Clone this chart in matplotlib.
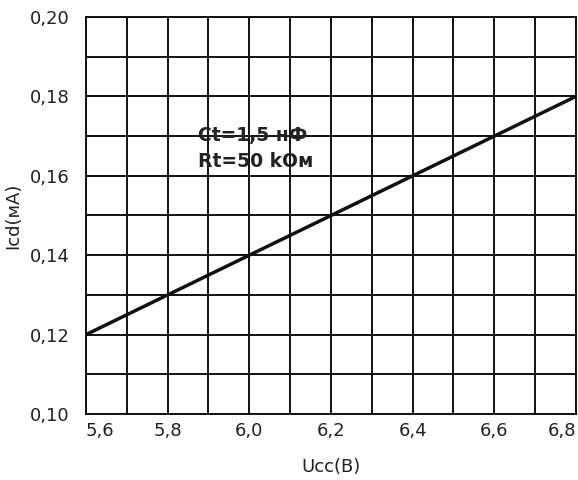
import matplotlib
matplotlib.use("Agg")
import matplotlib.pyplot as plt
import numpy as np

# данные
ucc = [5.6, 6.8]
icd = [0.12, 0.18]
x_ticks = [5.6, 5.8, 6.0, 6.2, 6.4, 6.6, 6.8]
x_labels = ["5,6", "5,8", "6,0", "6,2", "6,4", "6,6", "6,8"]
y_ticks = [0.10, 0.12, 0.14, 0.16, 0.18, 0.20]
y_labels = ["0,10", "0,12", "0,14", "0,16", "0,18", "0,20"]

plt.rcParams['font.family'] = ['DejaVu Sans']

fig = plt.figure(figsize=(5.78, 4.80), dpi=100)
ax = fig.add_axes([0.1488, 0.1375, 0.8477, 0.8271])

ax.plot(ucc, icd, color='#111111', linewidth=2.5, solid_capstyle='butt', zorder=3)

ax.set_xlim(5.6, 6.8)
ax.set_ylim(0.10, 0.20)

# сетка
ax.set_xticks(np.arange(5.6, 6.81, 0.1), minor=True)
ax.set_yticks(np.arange(0.10, 0.201, 0.01), minor=True)
ax.grid(which='both', color='#111111', linewidth=1.4)
ax.tick_params(which='both', length=0)

ax.set_xticks(x_ticks)
ax.set_xticklabels(x_labels, fontsize=13, color='#222222')
ax.set_yticks(y_ticks)
ax.set_yticklabels(y_labels, fontsize=13, color='#222222')
ax.tick_params(axis='x', pad=6)
ax.tick_params(axis='y', pad=12)
lbls = ax.get_xticklabels()
lbls[0].set_horizontalalignment('left')
lbls[-1].set_horizontalalignment('right')

for s in ax.spines.values():
    s.set_color('#111111')
    s.set_linewidth(1.4)

ax.set_xlabel('Ucc(B)', fontsize=13, labelpad=13, color='#222222')
ax.set_ylabel('Icd(мА)', fontsize=13, labelpad=5, color='#222222')

ax.text(0.228, 0.725, 'Ct=1,5 нФ\nRt=50 kОм', transform=ax.transAxes,
        fontsize=13.5, fontweight='bold', color='#222222', va='top',
        linespacing=1.45, zorder=4)

fig.savefig('out.png', dpi=100)
